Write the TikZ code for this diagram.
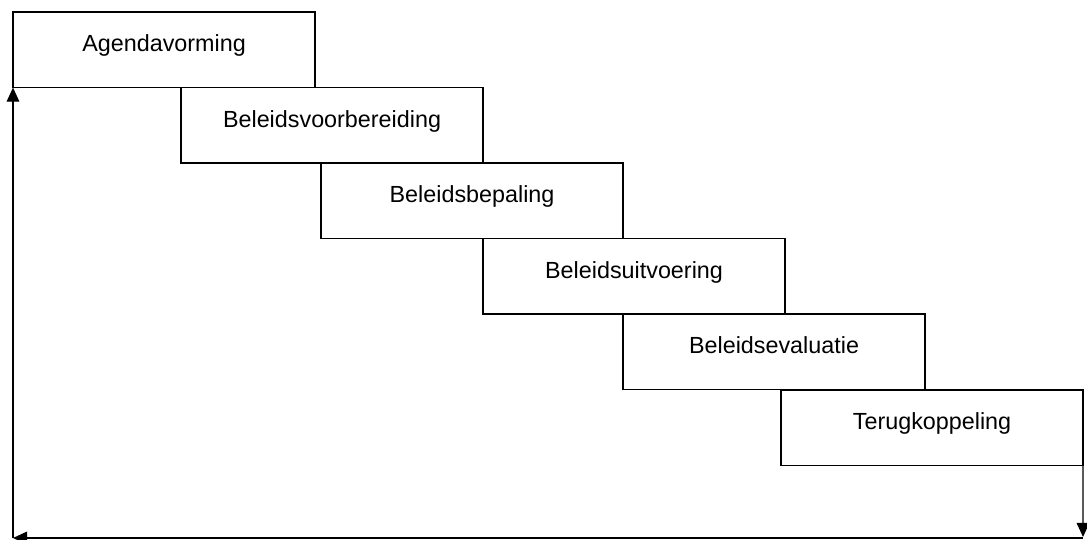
\documentclass[tikz,border=0pt]{standalone}
\usepackage{fontspec}
\setmainfont{Liberation Sans}
\usetikzlibrary{arrows.meta}
\begin{document}
\begin{tikzpicture}[x=0.025cm,y=-0.025cm,
        phase/.style={draw,line width=0.9pt,rectangle,anchor=north west,outer sep=0pt,inner sep=0pt,
            minimum width=7.55cm,minimum height=1.89cm,text height=12pt,text depth=9pt,
            font=\fontsize{16.6}{20}\selectfont},
        back/.style={line width=0.9pt,-{Triangle[length=10pt,width=9pt]}}]
    \useasboundingbox (0,0) rectangle (1087,540);
    % the six phases, stepping down to the right
    \node[phase] (agenda) at (13,12) {Agendavorming};
    \node[phase] (voorb) at (181,87.5) {Beleidsvoorbereiding};
    \node[phase] (bepal) at (321,163) {Beleidsbepaling};
    \node[phase] (uitv) at (483,238.5) {Beleidsuitvoering};
    \node[phase] (eval) at (623,314) {Beleidsevaluatie};
    \node[phase] (terug) at (781,390) {Terugkoppeling};

    % feedback loop back to the start
    \coordinate (hoekR) at (1083,537);
    \coordinate (hoekL) at (13,538);
    \draw[back] (terug.south east) -- (hoekR);
    \draw[back] (hoekR |- hoekL) -- (hoekL);
    \draw[back] (hoekL) -- (agenda.south west);
\end{tikzpicture}
\end{document}
